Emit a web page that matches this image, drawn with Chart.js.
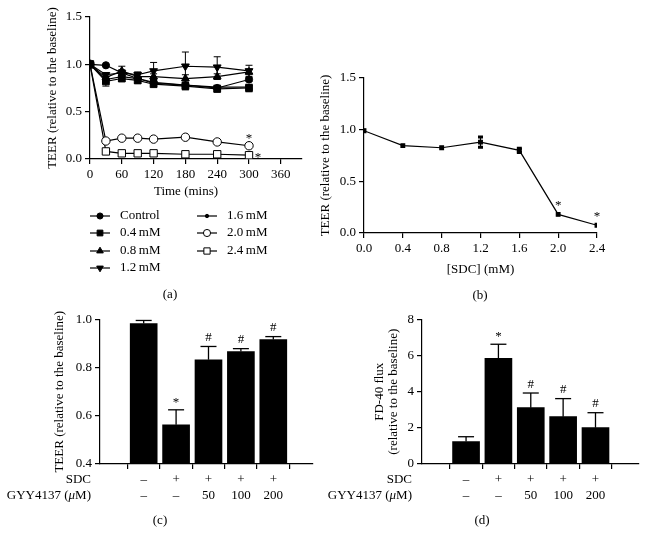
<!DOCTYPE html>
<html>
<head>
<meta charset="utf-8">
<script src="https://cdn.jsdelivr.net/npm/chart.js@4.4.1/dist/chart.umd.min.js"></script>
<style>
  body { margin: 0; background: #fff; }
  #fig { position: relative; width: 648px; height: 546px; font-family: 'Liberation Serif', 'Times New Roman', serif; font-size: 13px; color: #000; }
  #fig canvas { position: absolute; left: 0; top: 0; }
  .t { position: absolute; white-space: nowrap; line-height: 16px; transform: translate(-50%, -50%); }
  .r { transform: translate(-100%, -50%); }
</style>
</head>
<body>
<div id="fig">
  <canvas id="chartA" width="648" height="546"></canvas>
  <canvas id="chartB" width="648" height="546"></canvas>
  <canvas id="chartC" width="648" height="546"></canvas>
  <canvas id="chartD" width="648" height="546"></canvas>
  <div class="t" style="left:186px;top:191px">Time (mins)</div>
  <div class="t" style="left:170px;top:294px">(a)</div>
  <div class="t" style="left:480px;top:295px">(b)</div>
  <div class="t" style="left:160px;top:520px">(c)</div>
  <div class="t" style="left:482px;top:520px">(d)</div>
  <div class="t r" style="left:91px;top:479px">SDC</div>
  <div class="t r" style="left:91px;top:495px">GYY4137 (<i>μ</i>M)</div>
  <div class="t r" style="left:412px;top:479px">SDC</div>
  <div class="t r" style="left:412px;top:495px">GYY4137 (<i>μ</i>M)</div>
</div>
<script>
  // ---- data (a): TEER over time per SDC dose
  const timeMins = [0, 30, 60, 90, 120, 180, 240, 300];
  const seriesNames = ['Control', '0.4\u2009mM', '0.8\u2009mM', '1.2\u2009mM', '1.6\u2009mM', '2.0\u2009mM', '2.4\u2009mM'];
  const teerControl = [1.00, 0.99, 0.91, 0.85, 0.81, 0.78, 0.75, 0.84];
  const teer04 = [1.00, 0.82, 0.85, 0.83, 0.79, 0.77, 0.74, 0.75];
  const teer08 = [1.00, 0.86, 0.93, 0.87, 0.87, 0.85, 0.87, 0.92];
  const teer12 = [1.00, 0.89, 0.91, 0.89, 0.93, 0.98, 0.97, 0.93];
  const teer16 = [1.00, 0.84, 0.87, 0.85, 0.80, 0.78, 0.76, 0.76];
  const teer20 = [1.00, 0.19, 0.22, 0.22, 0.21, 0.23, 0.18, 0.14];
  const teer24 = [1.00, 0.08, 0.06, 0.06, 0.06, 0.05, 0.05, 0.04];
  const errControl = [0, 0.01, 0.03, 0.02, 0.02, 0.03, 0.02, 0.02];
  const err04 = [0, 0.05, 0.03, 0.03, 0.02, 0.04, 0.03, 0.04];
  const err08 = [0, 0.03, 0.05, 0.03, 0.03, 0.04, 0.03, 0.03];
  const err12 = [0, 0.02, 0.03, 0.03, 0.09, 0.15, 0.11, 0.06];
  const err16 = [0, 0.03, 0.03, 0.02, 0.02, 0.03, 0.02, 0.02];
  const err20 = [0, 0, 0, 0, 0, 0, 0, 0];
  const err24 = [0, 0, 0, 0, 0, 0, 0, 0];
  const marks20 = ['', '', '', '', '', '', '', '*'];
  const marks24 = ['', '', '', '', '', '', '', '*'];

  // ---- data (b): TEER vs SDC dose
  const sdcDose = [0, 0.4, 0.8, 1.2, 1.6, 2.0, 2.4];
  const teerDose = [0.99, 0.845, 0.825, 0.88, 0.80, 0.18, 0.075];
  const errDose = [0, 0, 0, 0.05, 0.02, 0, 0];
  const marksDose = ['', '', '', '', '', '*', '*'];

  // ---- data (c), (d): GYY4137 rescue
  const sdcRow = ['\u2013', '+', '+', '+', '+'];
  const gyyRow = ['\u2013', '\u2013', '50', '100', '200'];
  const teerRescue = [0.983, 0.5625, 0.833, 0.867, 0.917];
  const errRescue = [0.013, 0.0625, 0.055, 0.012, 0.012];
  const marksRescue = ['', '*', '#', '#', '#'];
  const fluxRescue = [1.24, 5.85, 3.12, 2.62, 2.01];
  const errFlux = [0.27, 0.78, 0.81, 1.00, 0.83];
  const marksFlux = ['', '*', '#', '#', '#'];

  const SERIF = "'Liberation Serif', 'Times New Roman', serif";
  Chart.defaults.font.family = SERIF;
  Chart.defaults.font.size = 13;
  Chart.defaults.color = '#000';

  const teerA = [teerControl, teer04, teer08, teer12, teer16, teer20, teer24];
  const errA = [errControl, err04, err08, err12, err16, err20, err24];
  const marksA = [null, null, null, null, null, marks20, marks24];
  const markerA = [
    { pointStyle: 'circle', pointRadius: 3.6, pointBackgroundColor: '#000' },
    { pointStyle: 'rect', pointRadius: 4.8, pointBackgroundColor: '#000' },
    { pointStyle: 'triangle', pointRadius: 4.5, pointBackgroundColor: '#000' },
    { pointStyle: 'triangle', pointRotation: 180, pointRadius: 4.5, pointBackgroundColor: '#000' },
    { pointStyle: 'circle', pointRadius: 2, pointBackgroundColor: '#000' },
    { pointStyle: 'circle', pointRadius: 4.2, pointBackgroundColor: '#fff' },
    { pointStyle: 'rect', pointRadius: 5.2, pointBackgroundColor: '#fff' }
  ];
  const LEGEND_POS = [[100, 216], [100, 233], [100, 251], [100, 268], [207, 216], [207, 233], [207, 251]];

  const grid = () => ({ display: true, drawOnChartArea: false, color: '#000', tickColor: '#000', tickLength: 5, lineWidth: 1.2 });
  const border = () => ({ display: true, color: '#000', width: 1.2 });
  const common = {
    responsive: false, animation: false, events: [], devicePixelRatio: 1,
  };
  const noLegend = { legend: { display: false }, tooltip: { enabled: false } };

  // error bars + significance marks
  function drawErrors(chart, upPass) {
    const ctx = chart.ctx, ys = chart.scales.y;
    chart.data.datasets.forEach((ds, i) => {
      if (!ds.err || !!ds.errUpOnly !== upPass) return;
      const pts = chart.getDatasetMeta(i).data;
      ctx.save();
      ctx.strokeStyle = '#000';
      pts.forEach((p, j) => {
        const e = ds.err[j];
        if (!e) return;
        const v = ds.data[j].y;
        const top = ys.getPixelForValue(v + e);
        const bot = ds.errUpOnly ? p.y : ys.getPixelForValue(v - e);
        const hw = ds.errCap / 2;
        ctx.lineWidth = ds.errLineWidth;
        ctx.beginPath();
        ctx.moveTo(p.x, top); ctx.lineTo(p.x, bot);
        ctx.stroke();
        ctx.lineWidth = ds.errCapLine || ds.errLineWidth;
        ctx.beginPath();
        ctx.moveTo(p.x - hw, top); ctx.lineTo(p.x + hw, top);
        if (!ds.errUpOnly) { ctx.moveTo(p.x - hw, bot); ctx.lineTo(p.x + hw, bot); }
        ctx.stroke();
      });
      ctx.restore();
    });
  }
  function drawMarks(chart) {
    const ctx = chart.ctx, ys = chart.scales.y;
    chart.data.datasets.forEach((ds, i) => {
      if (!ds.marks) return;
      const pts = chart.getDatasetMeta(i).data;
      ctx.save();
      ctx.font = '13px ' + SERIF;
      ctx.fillStyle = '#000';
      ctx.textAlign = 'center';
      ctx.textBaseline = 'alphabetic';
      pts.forEach((p, j) => {
        const m = ds.marks[j];
        if (!m) return;
        const v = ds.data[j].y;
        const top = ys.getPixelForValue(v + ((ds.err && ds.err[j]) || 0));
        let x = p.x, cy = Math.min(top, p.y) - ds.markGap;
        if (ds.markSide === 'right') { x = p.x + ds.markGap; cy = p.y; }
        ctx.fillText(m, x, cy + (m === '*' ? 6 : 4.5));
      });
      ctx.restore();
    });
  }
  const extras = {
    id: 'extras',
    beforeDatasetsDraw(chart) { drawErrors(chart, false); },
    afterDatasetsDraw(chart) { drawErrors(chart, true); drawMarks(chart); }
  };
  const legendA = {
    id: 'legendA',
    afterDraw(chart) {
      const ctx = chart.ctx;
      ctx.save();
      ctx.font = '13px ' + SERIF;
      ctx.textBaseline = 'middle';
      chart.data.datasets.forEach((ds, i) => {
        const [x, y] = LEGEND_POS[i];
        ctx.strokeStyle = '#000';
        ctx.lineWidth = 1.2;
        ctx.beginPath(); ctx.moveTo(x - 10, y); ctx.lineTo(x + 10, y); ctx.stroke();
        ctx.fillStyle = ds.pointBackgroundColor;
        ctx.lineWidth = 1;
        Chart.helpers.drawPoint(ctx, { pointStyle: ds.pointStyle, radius: ds.pointRadius * 0.85, rotation: ds.pointRotation || 0, borderWidth: 1 }, x, y);
        ctx.fillStyle = '#000';
        ctx.fillText(ds.label, x + 20, y);
      });
      ctx.restore();
    }
  };

  // (a)
  new Chart(document.getElementById('chartA'), {
    type: 'line',
    data: {
      datasets: seriesNames.map((name, k) => Object.assign({
        label: name,
        data: timeMins.map((t, j) => ({ x: t, y: teerA[k][j] })),
        err: errA[k], errLineWidth: 1, errCap: 7,
        marks: marksA[k], markSide: k === 6 ? 'right' : 'above', markGap: k === 6 ? 9 : 10,
        borderColor: '#000', borderWidth: 1.2, pointBorderColor: '#000', pointBorderWidth: 1, tension: 0
      }, markerA[k]))
    },
    options: Object.assign({}, common, {
      layout: { padding: { left: 45, top: 17, right: 346, bottom: 347 } },
      scales: {
        x: {
          type: 'linear', min: 0, max: 400, grid: grid(), border: border(),
          afterFit: s => { s.height = 40; },
          ticks: { stepSize: 60, includeBounds: false, padding: 3 }
        },
        y: {
          min: 0, max: 1.5, grid: grid(), border: border(),
          afterFit: s => { s.width = 45; },
          ticks: { stepSize: 0.5, padding: 3, callback: v => v.toFixed(1) },
          title: { display: true, text: 'TEER (relative to the baseline)', padding: 0 }
        }
      },
      plugins: noLegend
    }),
    plugins: [extras, legendA]
  });

  // (b)
  new Chart(document.getElementById('chartB'), {
    type: 'line',
    data: {
      datasets: [{
        data: sdcDose.map((d, j) => ({ x: d, y: teerDose[j] })),
        err: errDose, errLineWidth: 1.2, errCapLine: 3, errCap: 5,
        marks: marksDose, markGap: 11,
        borderColor: '#000', borderWidth: 1.2, pointStyle: 'rect', pointRadius: 2.6,
        pointBackgroundColor: '#000', pointBorderColor: '#000', tension: 0
      }]
    },
    options: Object.assign({}, common, {
      layout: { padding: { left: 318, top: 78, right: 51, bottom: 269 } },
      scales: {
        x: {
          type: 'linear', min: 0, max: 2.4, grid: grid(), border: border(),
          afterFit: s => { s.height = 44; },
          ticks: { stepSize: 0.4, padding: 3, callback: v => v.toFixed(1) },
          title: { display: true, text: '[SDC] (mM)', padding: 0 }
        },
        y: {
          min: 0, max: 1.5, grid: grid(), border: border(),
          afterFit: s => { s.width = 46; },
          ticks: { stepSize: 0.5, padding: 3, callback: v => v.toFixed(1) },
          title: { display: true, text: 'TEER (relative to the baseline)', padding: 0 }
        }
      },
      plugins: noLegend
    }),
    plugins: [extras]
  });

  // (c), (d)
  function rescueChart(id, values, errs, marks, box, xr, yScale) {
    return new Chart(document.getElementById(id), {
      type: 'bar',
      data: {
        datasets: [{
          data: values.map((v, i) => ({ x: i + 1, y: v })),
          backgroundColor: '#000', barThickness: 27,
          err: errs, errUpOnly: true, errLineWidth: 1.3, errCap: 16,
          marks: marks, markGap: 10
        }]
      },
      options: Object.assign({}, common, {
        layout: { padding: box.pad },
        scales: {
          x: {
            type: 'linear', min: xr[0], max: xr[1], grid: grid(), border: border(),
            afterBuildTicks: s => { s.ticks = sdcRow.map((_, i) => ({ value: i + 1 })); },
            afterFit: s => { s.height = 40; },
            ticks: { padding: 3, font: { size: 13, lineHeight: 16 / 13 }, callback: (v, i) => [sdcRow[i], gyyRow[i]] }
          },
          y: Object.assign({ grid: grid(), border: border(), afterFit: s => { s.width = box.yw; } }, yScale)
        },
        plugins: noLegend
      }),
      plugins: [extras]
    });
  }

  rescueChart('chartC', teerRescue, errRescue, marksRescue,
    { pad: { left: 52, top: 319.5, right: 335, bottom: 42 }, yw: 48 }, [0.309, 5.568],
    {
      min: 0.4, max: 1.0,
      ticks: { stepSize: 0.2, padding: 3, callback: v => v.toFixed(1) },
      title: { display: true, text: 'TEER (relative to the baseline)', padding: 0 }
    });

  rescueChart('chartD', fluxRescue, errFlux, marksFlux,
    { pad: { left: 373, top: 319.5, right: 9, bottom: 42 }, yw: 49 }, [0.309, 5.674],
    {
      min: 0, max: 8,
      ticks: { stepSize: 2, padding: 3 },
      title: { display: true, text: ['FD-40 flux', '(relative to the baseline)'], padding: 0, font: { size: 13, lineHeight: 14 / 13 } }
    });
</script>
</body>
</html>
